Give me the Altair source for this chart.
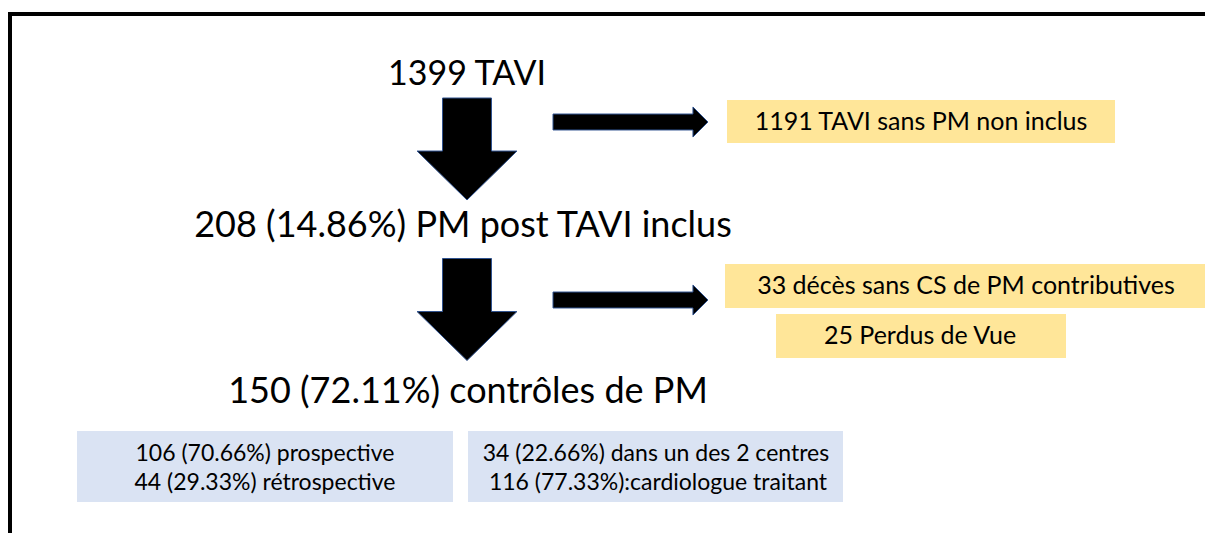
import altair as alt
import pandas as pd

# ---- content ----
main_labels = ["1399 TAVI", "208 (14.86%) PM post TAVI inclus", "150 (72.11%) contrôles de PM"]
main_sizes = [34, 36, 36]
excl_labels = ["1191 TAVI sans PM non inclus", "33 décès sans CS de PM contributives", "25 Perdus de Vue"]
sub_labels = ["106 (70.66%) prospective", "44 (29.33%) rétrospective",
              "34 (22.66%) dans un des 2 centres", " 116 (77.33%):cardiologue traitant"]

# ---- layout (page pixel coordinates) ----
main_x = [467, 463, 468]
main_y = [85, 237, 403]

excl_box_x1 = [727, 725, 776]
excl_box_x2 = [1115, 1208, 1066]
excl_box_y1 = [100, 264, 314]
excl_box_y2 = [143, 308, 358]
excl_text_x = [921, 966, 920]

sub_box_x1 = [77, 468]
sub_box_x2 = [453, 843]
sub_box_y1 = [431, 431]
sub_box_y2 = [502, 502]
sub_text_x = [265, 265, 656, 658]
sub_text_y = [454, 483, 454, 483]

down_arrow_x = [467, 467]
down_arrow_y = [149, 309.5]
right_arrow_x = [630.5, 630.5]
right_arrow_y = [122, 300]

W, H = 1197, 525
xs = alt.Scale(domain=[8, 8 + W], nice=False, zero=False)
ys = alt.Scale(domain=[8, 8 + H], nice=False, zero=False, reverse=True)

def X(f="x"):
    return alt.X(f"{f}:Q", scale=xs, axis=None)

def Y(f="y"):
    return alt.Y(f"{f}:Q", scale=ys, axis=None)

# border
border_df = pd.DataFrame({"x": [10, 10], "x2": [1213, 10], "y": [14, 12], "y2": [14, 540]})
border = alt.Chart(border_df).mark_rule(color="black", strokeWidth=4).encode(
    x=X(), x2="x2:Q", y=Y(), y2="y2:Q")

# boxes
excl_df = pd.DataFrame({"x": excl_box_x1, "x2": excl_box_x2, "y": excl_box_y1, "y2": excl_box_y2})
excl_boxes = alt.Chart(excl_df).mark_rect(color="#FFE699").encode(
    x=X(), x2="x2:Q", y=Y(), y2="y2:Q")
sub_df = pd.DataFrame({"x": sub_box_x1, "x2": sub_box_x2, "y": sub_box_y1, "y2": sub_box_y2})
sub_boxes = alt.Chart(sub_df).mark_rect(color="#DAE3F3").encode(
    x=X(), x2="x2:Q", y=Y(), y2="y2:Q")

# arrows (custom symbol shapes)
down_path = "M -0.48 -1 L 0.48 -1 L 0.48 0.04 L 0.98 0.04 L 0 1 L -0.98 0.04 L -0.48 0.04 Z"
right_path = "M -1 -0.103 L 0.806 -0.103 L 0.806 -0.194 L 1 0 L 0.806 0.194 L 0.806 0.103 L -1 0.103 Z"
down_df = pd.DataFrame({"x": down_arrow_x, "y": down_arrow_y})
down_arrows = alt.Chart(down_df).mark_point(
    shape=down_path, size=102 * 102, filled=True, fill="black", stroke="#2F528F",
    strokeWidth=1, opacity=1).encode(x=X(), y=Y())
right_df = pd.DataFrame({"x": right_arrow_x, "y": right_arrow_y})
right_arrows = alt.Chart(right_df).mark_point(
    shape=right_path, size=155 * 155, filled=True, fill="black", stroke="#2F528F",
    strokeWidth=1, opacity=1).encode(x=X(), y=Y())

# texts
FONT = "Lato"
main_df = pd.DataFrame({"x": main_x, "y": main_y, "t": main_labels, "s": main_sizes})
main_text = alt.Chart(main_df).mark_text(
    font=FONT, align="center", baseline="alphabetic", color="black").encode(
    x=X(), y=Y(), text="t:N", size=alt.Size("s:Q", scale=None, legend=None))

excl_t_df = pd.DataFrame({"x": excl_text_x,
                          "y": [(a + b) / 2 for a, b in zip(excl_box_y1, excl_box_y2)],
                          "t": excl_labels})
excl_text = alt.Chart(excl_t_df).mark_text(
    font=FONT, fontSize=25, align="center", baseline="middle", color="black").encode(
    x=X(), y=Y(), text="t:N")

sub_t_df = pd.DataFrame({"x": sub_text_x, "y": sub_text_y, "t": sub_labels})
sub_text = alt.Chart(sub_t_df).mark_text(
    font=FONT, fontSize=23, align="center", baseline="middle", color="black").encode(
    x=X(), y=Y(), text="t:N")

chart = alt.layer(border, excl_boxes, sub_boxes, down_arrows, right_arrows,
                  main_text, excl_text, sub_text).properties(
    width=W, height=H, padding=0, autosize=alt.AutoSizeParams(type="none"),
    background="white"
).configure_view(stroke=None)

chart.save("out.html", embed_options={"renderer": "svg", "actions": False})
